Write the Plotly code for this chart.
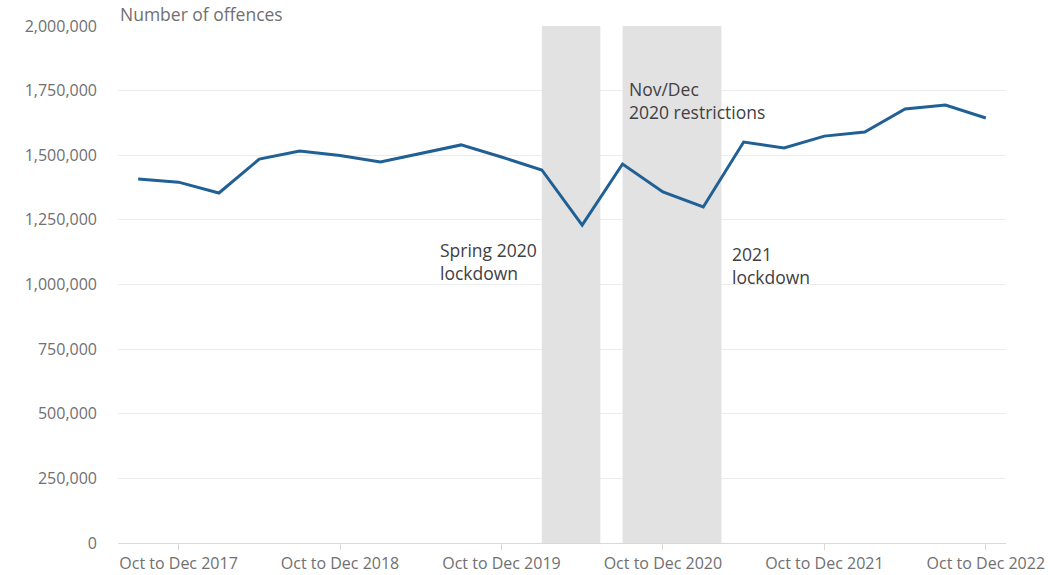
import plotly.graph_objects as go

# Quarterly offences, Jul to Sep 2017 - Oct to Dec 2022
quarters = [
    "Jul to Sep 2017", "Oct to Dec 2017", "Jan to Mar 2018", "Apr to Jun 2018",
    "Jul to Sep 2018", "Oct to Dec 2018", "Jan to Mar 2019", "Apr to Jun 2019",
    "Jul to Sep 2019", "Oct to Dec 2019", "Jan to Mar 2020", "Apr to Jun 2020",
    "Jul to Sep 2020", "Oct to Dec 2020", "Jan to Mar 2021", "Apr to Jun 2021",
    "Jul to Sep 2021", "Oct to Dec 2021", "Jan to Mar 2022", "Apr to Jun 2022",
    "Jul to Sep 2022", "Oct to Dec 2022",
]
offences = [
    1408000, 1396000, 1354000, 1485000, 1516000, 1499000, 1474000, 1507000,
    1540000, 1493000, 1443000, 1230000, 1466000, 1358000, 1300000, 1551000,
    1528000, 1574000, 1590000, 1679000, 1694000, 1644000,
]
tick_quarters = ["Oct to Dec 2017", "Oct to Dec 2018", "Oct to Dec 2019",
                 "Oct to Dec 2020", "Oct to Dec 2021", "Oct to Dec 2022"]
y_ticks = [0, 250000, 500000, 750000, 1000000, 1250000, 1500000, 1750000, 2000000]

# lockdown periods, as category index positions
lockdowns = [(10, 11.45), (12, 14.45)]
notes = [
    ("Spring 2020<br>lockdown", 7.43, 1187000),
    ("Nov/Dec<br>2020 restrictions", 12.1, 1812000),
    ("2021<br>lockdown", 14.65, 1172000),
]

FONT = "Open Sans"
GREY = "#707071"
W, H = 1048, 575
M = dict(l=118, r=42, t=26, b=32)

fig = go.Figure()
fig.add_trace(go.Scatter(
    x=quarters, y=offences, mode="lines",
    line=dict(color="#206095", width=3),
    hoverinfo="x+y",
))

for x0, x1 in lockdowns:
    fig.add_shape(type="rect", xref="x", yref="y", x0=x0, x1=x1,
                  y0=0, y1=2000000, fillcolor="#e2e2e2",
                  line=dict(width=0), layer="between")

for text, x, y in notes:
    fig.add_annotation(text=text, x=x, y=y, xref="x", yref="y",
                       xanchor="left", yanchor="top", align="left",
                       showarrow=False,
                       font=dict(family=FONT, size=17.5, color="#414042"))

# axis title sits in the top margin, flush with the top of the figure
plot_h = H - M["t"] - M["b"]
fig.add_annotation(text="Number of offences", xref="paper", x=0, xanchor="left",
                   yref="paper", y=1 + M["t"] / plot_h, yanchor="top",
                   showarrow=False,
                   font=dict(family=FONT, size=17.5, color=GREY))

fig.update_layout(
    width=W, height=H,
    margin=M,
    plot_bgcolor="white", paper_bgcolor="white",
    showlegend=False,
    font=dict(family=FONT, size=16, color=GREY),
    xaxis=dict(
        type="category", range=[-0.5, 21.5], automargin=False,
        tickvals=tick_quarters, ticktext=tick_quarters,
        showgrid=False, zeroline=False,
        showline=True, linecolor="#d9d9d9", linewidth=1,
        ticks="outside", ticklen=6, tickcolor="#d9d9d9",
        tickfont=dict(family=FONT, size=16, color=GREY),
    ),
    yaxis=dict(
        range=[0, 2000000], tickvals=y_ticks, tickformat=",",
        automargin=False,
        showgrid=True, gridcolor="#ececec", gridwidth=1,
        zeroline=False, showline=False,
        ticklabelstandoff=20,
        tickfont=dict(family=FONT, size=16, color=GREY),
    ),
)

# drop the default body margin so the figure fills the window exactly
fig.write_html("out.html", config={"displayModeBar": False},
               post_script="document.body.style.margin = '0';")
